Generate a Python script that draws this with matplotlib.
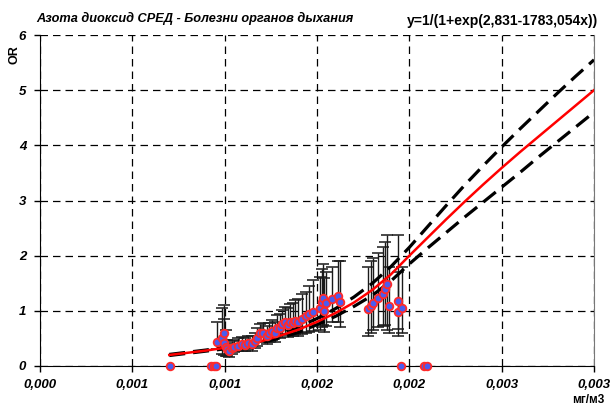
import matplotlib.pyplot as plt

# --- data ---
curve_x = [0.0007, 0.0008, 0.0009, 0.0010, 0.0011, 0.0012, 0.0013, 0.0014,
           0.0015, 0.0016, 0.0017, 0.0018, 0.0019, 0.0020, 0.0021, 0.0022,
           0.0023, 0.0024, 0.0025, 0.0026, 0.0027, 0.0028, 0.0029, 0.0030]
curve_fit = [0.20, 0.24, 0.28, 0.33, 0.38, 0.45, 0.55, 0.66,
             0.80, 0.96, 1.15, 1.38, 1.66, 2.00, 2.33, 2.66,
             2.98, 3.29, 3.59, 3.88, 4.16, 4.44, 4.72, 5.00]
curve_upper = [0.21, 0.25, 0.29, 0.34, 0.40, 0.48, 0.58, 0.71,
               0.86, 1.04, 1.25, 1.50, 1.80, 2.15, 2.53, 2.91,
               3.28, 3.63, 3.97, 4.30, 4.62, 4.94, 5.25, 5.55]
curve_lower = [0.19, 0.23, 0.27, 0.31, 0.36, 0.42, 0.51, 0.61,
               0.75, 0.90, 1.08, 1.28, 1.54, 1.85, 2.14, 2.42,
               2.70, 2.97, 3.24, 3.51, 3.79, 4.06, 4.33, 4.60]

pts_x = [0.000957, 0.000988, 0.000997, 0.000995, 0.001006, 0.001015, 0.001026,
         0.001038, 0.001053, 0.001071, 0.001093, 0.00111, 0.001128, 0.00115,
         0.001165, 0.001174, 0.001192, 0.00121, 0.001228, 0.00124, 0.001258,
         0.001273, 0.001282, 0.0013, 0.001313, 0.001327, 0.001342, 0.001354,
         0.001369, 0.001381, 0.001399, 0.00142, 0.00144, 0.001457, 0.00148,
         0.001517, 0.001526, 0.001535, 0.001548, 0.00154, 0.001583, 0.001616,
         0.001625, 0.001778, 0.001793, 0.001802, 0.001833, 0.00186, 0.001869,
         0.001881, 0.001892, 0.001938, 0.001941, 0.001959]
pts_or = [0.43, 0.50, 0.60, 0.41, 0.34, 0.30, 0.27,
          0.32, 0.35, 0.37, 0.39, 0.38, 0.41, 0.40,
          0.45, 0.51, 0.59, 0.60, 0.54, 0.59, 0.64,
          0.59, 0.69, 0.69, 0.76, 0.79, 0.74, 0.80,
          0.78, 0.82, 0.80, 0.86, 0.90, 0.95, 0.98,
          1.05, 1.16, 1.23, 1.14, 1.00, 1.21, 1.27,
          1.16, 1.03, 1.09, 1.15, 1.23, 1.30, 1.39,
          1.49, 1.09, 1.18, 0.97, 1.06]
pts_lo = [0.30, 0.22, 0.30, 0.20, 0.18, 0.18, 0.17,
          0.22, 0.25, 0.27, 0.28, 0.28, 0.30, 0.28,
          0.32, 0.37, 0.44, 0.45, 0.40, 0.44, 0.48,
          0.43, 0.52, 0.50, 0.56, 0.58, 0.53, 0.58,
          0.55, 0.58, 0.55, 0.58, 0.60, 0.62, 0.64,
          0.66, 0.70, 0.75, 0.72, 0.62, 0.80, 0.80,
          0.70, 0.55, 0.60, 0.65, 0.70, 0.72, 0.75,
          0.65, 0.60, 0.67, 0.55, 0.60]
pts_hi = [0.80, 1.05, 1.10, 0.85, 0.65, 0.48, 0.42,
          0.45, 0.48, 0.50, 0.52, 0.50, 0.55, 0.55,
          0.60, 0.68, 0.76, 0.78, 0.72, 0.78, 0.84,
          0.80, 0.92, 0.95, 1.02, 1.07, 1.05, 1.12,
          1.15, 1.20, 1.22, 1.30, 1.35, 1.45, 1.55,
          1.62, 1.75, 1.85, 1.70, 1.60, 1.80, 1.90,
          1.90, 1.80, 1.90, 1.95, 2.05, 2.15, 2.25,
          2.38, 1.80, 2.37, 1.70, 1.80]

zero_x = [0.000702, 0.000925, 0.000940, 0.000955, 0.001957, 0.00208, 0.002095]
zero_or = [0, 0, 0, 0, 0, 0, 0]

xticks = [0.0, 0.0005, 0.001, 0.0015, 0.002, 0.0025, 0.003]
xtick_labels = ["0,000", "0,001", "0,001", "0,002", "0,002", "0,003", "0,003"]
yticks = [0, 1, 2, 3, 4, 5, 6]

plt.rcParams['font.family'] = ['Liberation Sans', 'DejaVu Sans']

fig = plt.figure(figsize=(6.14, 4.08), dpi=100)
ax = fig.add_axes([40 / 614, 42 / 408, 554 / 614, 331 / 408])

err_lo = [y - lo for y, lo in zip(pts_or, pts_lo)]
err_hi = [hi - y for y, hi in zip(pts_or, pts_hi)]
ax.errorbar(pts_x, pts_or, yerr=[err_lo, err_hi], fmt='none', ecolor='#1a1a1a',
            elinewidth=1.0, capsize=4.5, capthick=1.1, zorder=2)

ax.plot(curve_x, curve_upper, color='black', lw=2.3, dashes=(5, 2.5), zorder=3)
ax.plot(curve_x, curve_lower, color='black', lw=2.3, dashes=(5, 2.5), zorder=3)
ax.plot(curve_x, curve_fit, color='#ff0000', lw=1.8, zorder=4)

ax.plot(pts_x, pts_or, 'o', ms=5.5, mfc='#4a5cf0', mec='#ff2a2a', mew=1.3, zorder=5,
        clip_on=False)
ax.plot(zero_x, zero_or, 'o', ms=5.5, mfc='#4a5cf0', mec='#ff2a2a', mew=1.3, zorder=5,
        clip_on=False)

ax.set_xlim(0, 0.003)
ax.set_ylim(0, 6)
ax.set_xticks(xticks)
ax.set_xticklabels(xtick_labels)
ax.set_yticks(yticks)
ax.tick_params(axis='both', direction='out', length=4, width=1, color='black',
               labelsize=9.5)
ax.tick_params(axis='x', pad=5)
ax.tick_params(axis='y', pad=6)
for lab in ax.get_xticklabels() + ax.get_yticklabels():
    lab.set_fontweight('bold')
    lab.set_fontstyle('italic')

ax.grid(True, color='black', lw=0.9, dashes=(6, 4))
ax.set_axisbelow(True)
ax.spines['top'].set_visible(False)
ax.spines['right'].set_color('#777777')
ax.spines['left'].set_color('black')
ax.spines['bottom'].set_color('black')

fig.text(36 / 614, 1 - 18 / 408, "Азота диоксид СРЕД - Болезни органов дыхания",
         fontsize=9.2, fontweight='bold', fontstyle='italic', va='center')
fig.text(598 / 614, 1 - 21 / 408, "y=1/(1+exp(2,831-1783,054x))",
         fontsize=10, fontweight='bold', va='center', ha='right')
fig.text(15 / 614, 1 - 55 / 408, "OR", fontsize=9, fontweight='bold',
         rotation=90, va='center', ha='center')
fig.text(604 / 614, 1 - 400 / 408, "мг/м3", fontsize=8.5, fontweight='bold',
         ha='right', va='center')

fig.savefig("out.png", dpi=100)
